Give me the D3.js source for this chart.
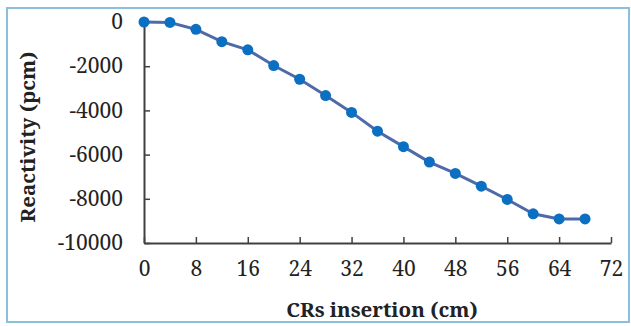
<!DOCTYPE html>
<html lang="en">
<head>
    <script src="https://d3js.org/d3.v7.min.js"></script>
    <style>
        body { margin: 0; background: #fff; }
    </style>
</head>
<body>
    <div id="graph"></div>
    <script>
        // insertion depth (cm) and reactivity (pcm)
        var insertion = [0, 4, 8, 12, 16, 20, 24, 28, 32, 36, 40, 44, 48, 52, 56, 60, 64, 68];
        var reactivity = [0, -20, -330, -890, -1260, -1970, -2590, -3330, -4090, -4940, -5640, -6340, -6850, -7430, -8030, -8680, -8910, -8910];
        var xTicks = [0, 8, 16, 24, 32, 40, 48, 56, 64, 72];
        var yTicks = [0, -2000, -4000, -6000, -8000, -10000];

        var data = insertion.map((d, i) => ({x: d, y: reactivity[i]}));

        var W = 631, H = 326;
        var margin = {top: 22, right: 20, bottom: 83, left: 144},
            width = 611 - margin.left,
            height = 243 - margin.top;

        var svg = d3.select("#graph").append("svg")
            .attr("width", W)
            .attr("height", H);

        // frame around the figure
        svg.append("rect")
            .attr("x", 7).attr("y", 8)
            .attr("width", 622).attr("height", 314)
            .attr("fill", "none")
            .attr("stroke", "#8cc0d8")
            .attr("stroke-width", 2);

        var g = svg.append("g")
            .attr("transform", "translate(" + margin.left + "," + margin.top + ")");

        var x = d3.scaleLinear().domain([0, 72]).range([0, width]);
        var y = d3.scaleLinear().domain([-10000, 0]).range([height, 0]);

        var font = "'Noto Serif', 'Liberation Serif', serif";

        // x axis, ticks pointing inward
        var xAxis = g.append("g")
            .attr("transform", "translate(0," + height + ")")
            .call(d3.axisBottom(x).tickValues(xTicks).tickSizeInner(-6).tickSizeOuter(0).tickPadding(18));

        // y axis
        var yAxis = g.append("g")
            .call(d3.axisLeft(y).tickValues(yTicks).tickSizeInner(-6).tickSizeOuter(0).tickPadding(21)
                .tickFormat(d => d));

        [xAxis, yAxis].forEach(a => {
            a.select(".domain").attr("stroke", "#404040").attr("stroke-width", 2);
            a.selectAll(".tick line").attr("stroke", "#404040").attr("stroke-width", 1.5);
            a.selectAll("text")
                .style("font-family", font)
                .style("font-size", "21px")
                .attr("fill", "#222");
        });

        // line + markers
        var line = d3.line().x(d => x(d.x)).y(d => y(d.y));
        g.append("path")
            .datum(data)
            .attr("fill", "none")
            .attr("stroke", "#4f6aa8")
            .attr("stroke-width", 3)
            .attr("d", line);

        g.selectAll("circle")
            .data(data)
            .enter().append("circle")
            .attr("cx", d => x(d.x))
            .attr("cy", d => y(d.y))
            .attr("r", 5.5)
            .attr("fill", "#0b6fc2");

        // axis titles
        svg.append("text")
            .attr("x", 382).attr("y", 317)
            .attr("text-anchor", "middle")
            .style("font-family", font)
            .style("font-size", "20.5px")
            .style("font-weight", "bold")
            .attr("fill", "#222")
            .text("CRs insertion (cm)");

        svg.append("text")
            .attr("transform", "translate(35,137) rotate(-90)")
            .attr("text-anchor", "middle")
            .style("font-family", font)
            .style("font-size", "20.5px")
            .style("font-weight", "bold")
            .attr("fill", "#222")
            .text("Reactivity (pcm)");
    </script>
</body>
</html>
